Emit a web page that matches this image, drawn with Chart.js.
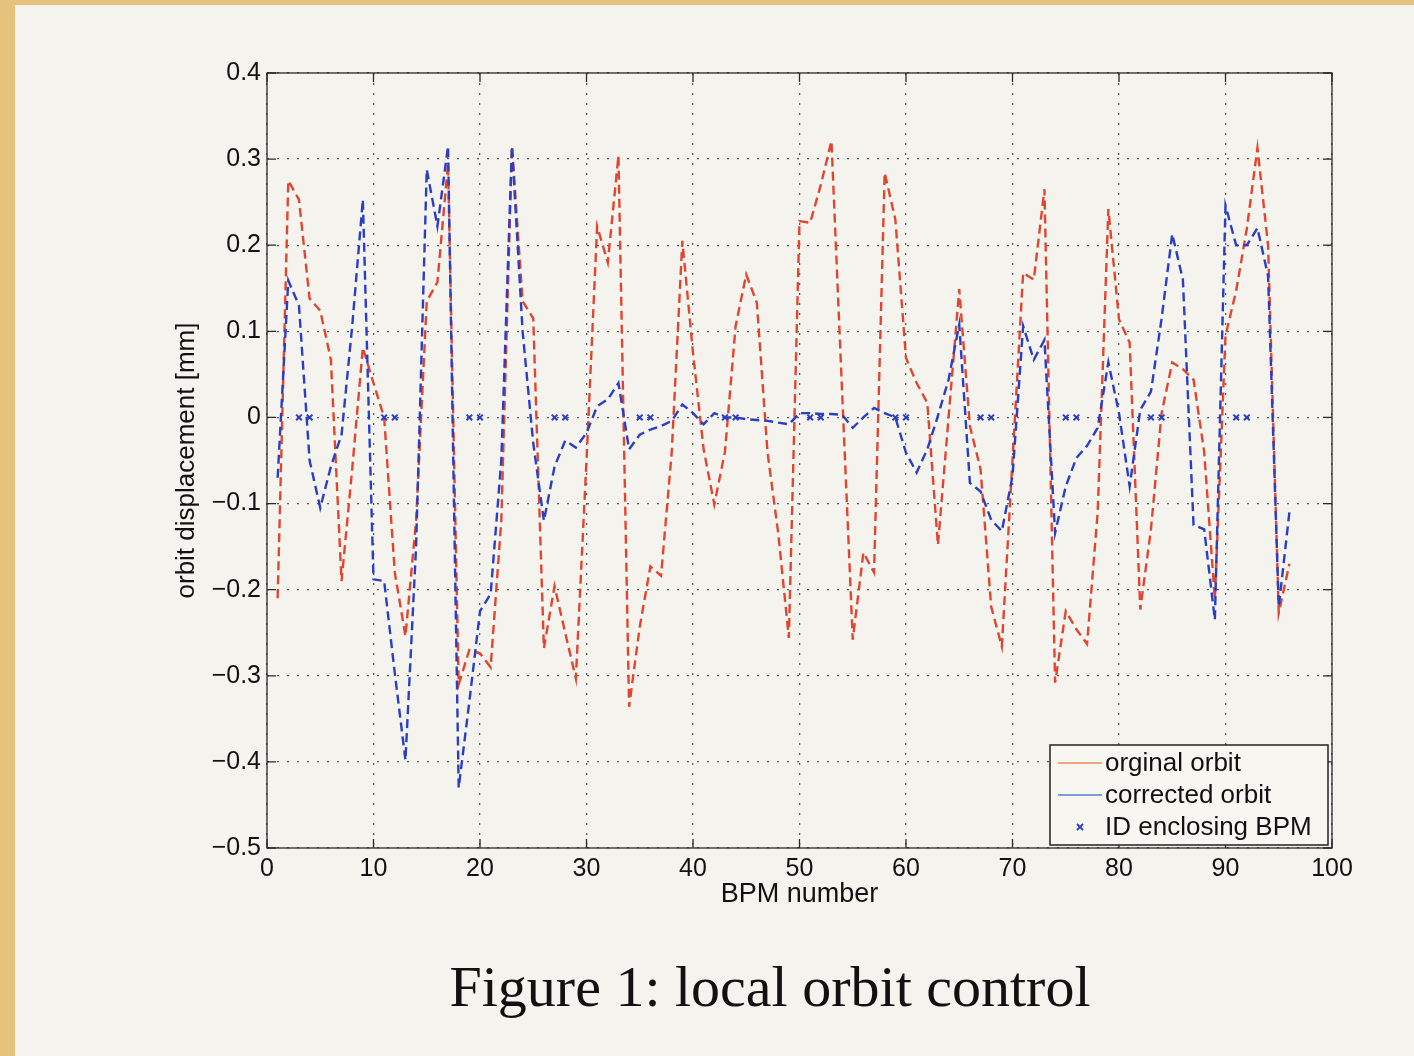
<!DOCTYPE html>
<html>
<head>
<meta charset="utf-8">
<script src="https://cdn.jsdelivr.net/npm/chart.js@4.4.1/dist/chart.umd.min.js"></script>
<style>
  html, body { margin: 0; padding: 0; background: #f4f3ed; }
  #wrap { position: relative; width: 1414px; height: 1056px; overflow: hidden; }
  #orbitChart { position: absolute; left: 0; top: 0; }
  #caption {
    position: absolute; left: 0; width: 1540px; top: 953px; text-align: center;
    font-family: 'Liberation Serif', 'DejaVu Serif', serif; font-size: 58px; color: #111;
  }
</style>
</head>
<body>
<div id="wrap">
  <canvas id="orbitChart" width="1414" height="1056"></canvas>
  <div id="caption">Figure 1: local orbit control</div>
</div>
<script>
const bpm = [1, 2, 3, 4, 5, 6, 7, 8, 9, 10, 11, 12, 13, 14, 15, 16, 17, 18, 19, 20,
  21, 22, 23, 24, 25, 26, 27, 28, 29, 30, 31, 32, 33, 34, 35, 36, 37, 38, 39, 40,
  41, 42, 43, 44, 45, 46, 47, 48, 49, 50, 51, 52, 53, 54, 55, 56, 57, 58, 59, 60,
  61, 62, 63, 64, 65, 66, 67, 68, 69, 70, 71, 72, 73, 74, 75, 76, 77, 78, 79, 80,
  81, 82, 83, 84, 85, 86, 87, 88, 89, 90, 91, 92, 93, 94, 95, 96]

// original orbit [mm]
const originalOrbit = [-0.21, 0.275, 0.253, 0.138, 0.124, 0.067, -0.19, -0.06, 0.081, 0.04,
  0.0, -0.18, -0.254, -0.12, 0.135, 0.157, 0.295, -0.31, -0.27, -0.274,
  -0.29, -0.12, 0.315, 0.135, 0.115, -0.268, -0.196, -0.25, -0.303, -0.05,
  0.222, 0.18, 0.304, -0.336, -0.243, -0.173, -0.184, -0.041, 0.205, 0.075,
  -0.037, -0.101, -0.04, 0.106, 0.166, 0.133, -0.041, -0.134, -0.256, 0.228,
  0.226, 0.27, 0.321, 0.03, -0.258, -0.157, -0.18, 0.284, 0.23, 0.069,
  0.04, 0.017, -0.148, 0.0, 0.149, -0.01, -0.06, -0.22, -0.266, -0.05,
  0.168, 0.16, 0.265, -0.308, -0.225, -0.246, -0.263, -0.11, 0.242, 0.114,
  0.087, -0.223, -0.13, 0.005, 0.064, 0.056, 0.044, -0.04, -0.211, 0.095,
  0.147, 0.219, 0.313, 0.2, -0.227, -0.17]

// corrected orbit [mm]
const correctedOrbit = [-0.07, 0.159, 0.13, -0.05, -0.105, -0.057, -0.02, 0.106, 0.253, -0.188,
  -0.19, -0.297, -0.398, -0.15, 0.288, 0.222, 0.315, -0.43, -0.33, -0.225,
  -0.205, -0.05, 0.315, 0.1, -0.03, -0.12, -0.057, -0.027, -0.035, -0.018,
  0.013, 0.021, 0.04, -0.037, -0.02, -0.014, -0.01, -0.004, 0.015, 0.005,
  -0.008, 0.005, 0.0, 0.0, -0.002, -0.003, -0.004, -0.006, -0.008, 0.005,
  0.005, 0.004, 0.004, 0.003, -0.012, 0.0, 0.011, 0.005, 0.0, -0.041,
  -0.064, -0.037, 0.002, 0.044, 0.108, -0.076, -0.086, -0.119, -0.132, -0.068,
  0.106, 0.067, 0.09, -0.134, -0.08, -0.047, -0.033, -0.012, 0.064, 0.005,
  -0.08, 0.009, 0.03, 0.115, 0.213, 0.16, -0.125, -0.13, -0.235, 0.246,
  0.2, 0.2, 0.22, 0.164, -0.22, -0.11]

// BPMs enclosing insertion devices
const idBpm = [3, 4, 11, 12, 19, 20, 27, 28, 35, 36, 43, 44, 51, 52, 59, 60, 67, 68, 75, 76, 83, 84, 91, 92]
const idValue = [0, 0, 0, 0, 0, 0, 0, 0, 0, 0, 0, 0, 0, 0, 0, 0, 0, 0, 0, 0, 0, 0, 0, 0]

const RED = '#e2452f'
const BLUE = '#2a3ec4'
const FONT = "'Liberation Sans', Arial, sans-serif"

const fmt = (v) => {
  const r = Math.round(v * 10) / 10
  if (r === 0) return '0'
  return r < 0 ? '\u2212' + Math.abs(r).toFixed(1) : r.toFixed(1)
}

const paper = {
  id: 'paper',
  beforeDraw(chart) {
    const { ctx, width, height } = chart
    ctx.save()
    ctx.fillStyle = '#f4f3ed'
    ctx.fillRect(0, 0, width, height)
    ctx.fillStyle = '#e6c37c'
    ctx.fillRect(0, 0, 15, height)
    ctx.fillRect(0, 0, width, 5)
    ctx.restore()
  },
}

const axesBox = {
  id: 'axesBox',
  afterDatasetsDraw(chart) {
    const { ctx, chartArea: a, scales } = chart
    ctx.save()
    ctx.strokeStyle = '#2a2a2a'
    ctx.lineWidth = 1.3
    ctx.strokeRect(a.left, a.top, a.right - a.left, a.bottom - a.top)
    const len = 9
    ctx.beginPath()
    scales.y.ticks.forEach((t) => {
      const y = scales.y.getPixelForValue(t.value)
      ctx.moveTo(a.left, y); ctx.lineTo(a.left + len, y)
      ctx.moveTo(a.right, y); ctx.lineTo(a.right - len, y)
    })
    scales.x.ticks.forEach((t) => {
      const x = scales.x.getPixelForValue(t.value)
      ctx.moveTo(x, a.bottom); ctx.lineTo(x, a.bottom - len)
      ctx.moveTo(x, a.top); ctx.lineTo(x, a.top + len)
    })
    ctx.stroke()
    ctx.restore()
  },
}

const boxLegend = {
  id: 'boxLegend',
  afterDraw(chart) {
    const { ctx } = chart
    const ds = chart.data.datasets
    const lx = 1050, ly = 745, lw = 278, lh = 100
    ctx.save()
    ctx.fillStyle = '#f7f6f1'
    ctx.fillRect(lx, ly, lw, lh)
    ctx.strokeStyle = '#222'
    ctx.lineWidth = 1.5
    ctx.strokeRect(lx, ly, lw, lh)
    ctx.font = '26px ' + FONT
    ctx.textBaseline = 'middle'
    ds.forEach((d, i) => {
      const y = ly + 18 + i * 32
      if (d.showLine === false) {
        const cx = lx + 30
        ctx.strokeStyle = d.borderColor
        ctx.lineWidth = 1.8
        ctx.beginPath()
        ctx.moveTo(cx - 3, y - 3); ctx.lineTo(cx + 3, y + 3)
        ctx.moveTo(cx - 3, y + 3); ctx.lineTo(cx + 3, y - 3)
        ctx.stroke()
      } else {
        ctx.strokeStyle = i === 0 ? '#ee8a55' : '#4f7fd0'
        ctx.lineWidth = 1.5
        ctx.beginPath()
        ctx.moveTo(lx + 8, y); ctx.lineTo(lx + 52, y)
        ctx.stroke()
      }
      ctx.fillStyle = '#111'
      ctx.fillText(d.label, lx + 55, y + 1)
    })
    ctx.restore()
  },
}

new Chart(document.getElementById('orbitChart'), {
  type: 'line',
  data: {
    datasets: [
      {
        label: 'orginal orbit',
        data: bpm.map((b, i) => ({ x: b, y: originalOrbit[i] })),
        borderColor: RED,
        borderWidth: 2.4,
        borderDash: [9, 5],
        pointRadius: 0,
        tension: 0,
        order: 2,
      },
      {
        label: 'corrected orbit',
        data: bpm.map((b, i) => ({ x: b, y: correctedOrbit[i] })),
        borderColor: BLUE,
        borderWidth: 2.4,
        borderDash: [9, 5],
        pointRadius: 0,
        tension: 0,
        order: 1,
      },
      {
        label: 'ID enclosing BPM',
        data: idBpm.map((b, i) => ({ x: b, y: idValue[i] })),
        showLine: false,
        borderColor: BLUE,
        backgroundColor: BLUE,
        pointStyle: 'crossRot',
        pointRadius: 4,
        pointBorderWidth: 2,
        order: 0,
      },
    ],
  },
  options: {
    responsive: false,
    animation: false,
    devicePixelRatio: 1,
    layout: { padding: { left: 0, top: 73, right: 82, bottom: 118 } },
    plugins: {
      legend: { display: false },
      tooltip: { enabled: false },
    },
    scales: {
      x: {
        type: 'linear',
        min: 0,
        max: 100,
        afterFit: (s) => { s.height = 90 },
        ticks: { stepSize: 10, padding: 6, color: '#111', font: { family: FONT, size: 25 } },
        grid: { color: 'rgba(40,40,40,0.75)', lineWidth: 1.3, drawTicks: false },
        border: { display: false, dash: [2, 8] },
        title: {
          display: true, text: 'BPM number', color: '#111',
          font: { family: FONT, size: 27 }, padding: { top: 0, bottom: 27 },
        },
      },
      y: {
        min: -0.5,
        max: 0.4,
        afterFit: (s) => { s.width = 267 },
        ticks: { stepSize: 0.1, padding: 6, color: '#111', font: { family: FONT, size: 25 }, callback: (v) => fmt(v) },
        grid: { color: 'rgba(40,40,40,0.75)', lineWidth: 1.3, drawTicks: false },
        border: { display: false, dash: [2, 8] },
        title: {
          display: true, text: 'orbit displacement [mm]', color: '#111',
          font: { family: FONT, size: 26 }, padding: { top: 171, bottom: 0 },
        },
      },
    },
  },
  plugins: [paper, axesBox, boxLegend],
})
</script>
</body>
</html>
